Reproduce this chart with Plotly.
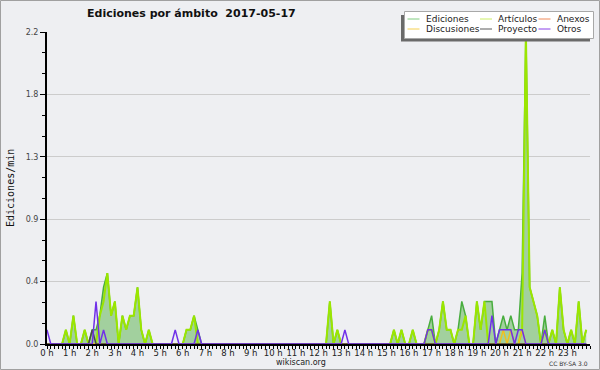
import plotly.graph_objects as go

# ---------------- data (edits per minute, 10-minute buckets, 6 per hour) ----------------
hours = list(range(24))
tick_labels = [f"{h} h" for h in hours]

ediciones = [
    0, 0, 0, 0, 0, 0.1,        # 0h
    0, 0.2, 0, 0, 0.1, 0,      # 1h
    0.1, 0.1, 0.2, 0.4, 0.5, 0.2,  # 2h
    0.3, 0, 0.2, 0.1, 0.2, 0.2,    # 3h
    0.4, 0.1, 0, 0.1, 0, 0,    # 4h
    0, 0, 0, 0, 0, 0,          # 5h
    0, 0.1, 0.1, 0.2, 0.1, 0,  # 6h
    0, 0, 0, 0, 0, 0,          # 7h
    0, 0, 0, 0, 0, 0,          # 8h
    0, 0, 0, 0, 0, 0,          # 9h
    0, 0, 0, 0, 0, 0,          # 10h
    0, 0, 0, 0, 0, 0,          # 11h
    0, 0, 0, 0.3, 0, 0.1,      # 12h
    0, 0, 0, 0, 0, 0,          # 13h
    0, 0, 0, 0, 0, 0,          # 14h
    0, 0, 0.1, 0, 0.1, 0,      # 15h
    0, 0.1, 0, 0, 0, 0.1,      # 16h
    0.2, 0, 0.1, 0.3, 0.1, 0.1,    # 17h
    0, 0.1, 0.3, 0.2, 0, 0,        # 18h
    0.3, 0.1, 0.3, 0.3, 0.3, 0,    # 19h
    0.1, 0.2, 0.1, 0.2, 0.1, 0.1,  # 20h
    0.5, 2.2, 0.4, 0.3, 0.2, 0,    # 21h
    0.2, 0, 0.1, 0, 0.4, 0.1,      # 22h
    0, 0.1, 0, 0.3, 0, 0.1,        # 23h
]

articulos = [
    0, 0, 0, 0, 0, 0.1,
    0, 0.2, 0, 0, 0.1, 0,
    0, 0, 0.2, 0.3, 0.5, 0.2,
    0.3, 0, 0.2, 0.1, 0.2, 0.2,
    0.4, 0.1, 0, 0.1, 0, 0,
    0, 0, 0, 0, 0, 0,
    0, 0.1, 0.1, 0.2, 0, 0,
    0, 0, 0, 0, 0, 0,
    0, 0, 0, 0, 0, 0,
    0, 0, 0, 0, 0, 0,
    0, 0, 0, 0, 0, 0,
    0, 0, 0, 0, 0, 0,
    0, 0, 0, 0.3, 0, 0.1,
    0, 0, 0, 0, 0, 0,
    0, 0, 0, 0, 0, 0,
    0, 0, 0.1, 0, 0.1, 0,
    0, 0.1, 0, 0, 0, 0.1,
    0.1, 0, 0.1, 0.3, 0.1, 0.1,
    0, 0.1, 0.1, 0.2, 0, 0,
    0.3, 0.1, 0.3, 0, 0, 0,
    0, 0, 0, 0, 0, 0,
    0.1, 2.2, 0.4, 0.3, 0.2, 0,
    0.1, 0, 0.1, 0, 0.4, 0.1,
    0, 0.1, 0, 0.3, 0, 0.1,
]

anexos = [0] * 144

discusiones = [0] * 120 + [
    0, 0.1, 0, 0.1, 0, 0,      # 20h
    0.1, 0, 0, 0, 0, 0,        # 21h
] + [0] * 12

proyecto = [0] * 12 + [0.1] + [0] * 131

otros = [
    0.1, 0, 0, 0, 0, 0,        # 0h
    0, 0, 0, 0, 0, 0,          # 1h
    0, 0.3, 0, 0.1, 0, 0,      # 2h
    0, 0, 0, 0, 0, 0,          # 3h
    0, 0, 0, 0, 0, 0,          # 4h
    0, 0, 0, 0, 0.1, 0,        # 5h
    0, 0, 0, 0, 0.1, 0,        # 6h
    0, 0, 0, 0, 0, 0,          # 7h
    0, 0, 0, 0, 0, 0,          # 8h
    0, 0, 0, 0, 0, 0,          # 9h
    0, 0, 0, 0, 0, 0,          # 10h
    0, 0, 0, 0, 0, 0,          # 11h
    0, 0, 0, 0, 0, 0,          # 12h
    0, 0.1, 0, 0, 0, 0,        # 13h
    0, 0, 0, 0, 0, 0,          # 14h
    0, 0, 0, 0, 0, 0,          # 15h
    0, 0, 0, 0, 0, 0.1,        # 16h
    0.1, 0, 0, 0, 0, 0,        # 17h
    0, 0, 0, 0, 0, 0,          # 18h
    0, 0, 0, 0, 0.2, 0,        # 19h
    0.1, 0.1, 0.1, 0.1, 0, 0.1,    # 20h
    0.1, 0, 0, 0, 0, 0,        # 21h
    0.1, 0, 0, 0, 0, 0,        # 22h
    0, 0, 0, 0, 0, 0,          # 23h
]

y_max = 2.2
y_ticks = [0, 0.44, 0.88, 1.32, 1.76, 2.2]
y_tick_labels = ["0.0", "0.4", "0.9", "1.3", "1.8", "2.2"]

times = [i / 6 for i in range(len(ediciones))]

# ---------------- layout constants ----------------
W, H = 600, 370
L, R, T, B = 47, 10, 32, 26
PW, PH = W - L - R, H - T - B
BG = "#eeeff2"


def px(xp):
    return (xp - L) / PW


def py(yp):
    return (H - B - yp) / PH


fig = go.Figure()

fig.add_trace(go.Scatter(x=times, y=ediciones, mode="lines", fill="tozeroy",
                         fillcolor="#a2d09e", line=dict(color="#48ad3e", width=1.5),
                         name="Ediciones", showlegend=False, hoverinfo="skip"))
fig.add_trace(go.Scatter(x=times, y=articulos, mode="lines",
                         line=dict(color="#9be600", width=2),
                         name="Artículos", showlegend=False, hoverinfo="skip"))
fig.add_trace(go.Scatter(x=times, y=anexos, mode="lines",
                         line=dict(color="#f07a40", width=1.5),
                         name="Anexos", showlegend=False, hoverinfo="skip"))
fig.add_trace(go.Scatter(x=times, y=discusiones, mode="lines",
                         line=dict(color="#f0c020", width=1.5),
                         name="Discusiones", showlegend=False, hoverinfo="skip"))
fig.add_trace(go.Scatter(x=times, y=proyecto, mode="lines",
                         line=dict(color="#4a4a4a", width=1.5),
                         name="Proyecto", showlegend=False, hoverinfo="skip"))
fig.add_trace(go.Scatter(x=times, y=otros, mode="lines",
                         line=dict(color="#7030e8", width=1.5),
                         name="Otros", showlegend=False, hoverinfo="skip"))

minor_y = [i * 0.44 / 3 for i in range(16) if i % 3]
minor_x = [i / 6 for i in range(145)]

fig.update_layout(
    width=W, height=H,
    margin=dict(l=L, r=R, t=T, b=B, pad=0),
    paper_bgcolor=BG, plot_bgcolor=BG,
    font=dict(family="DejaVu Sans", color="#333333"),
    showlegend=False,
    xaxis=dict(range=[0, 24], tickmode="array", tickvals=hours, ticktext=tick_labels,
               showgrid=False, zeroline=False, showline=True, linecolor="#000000", linewidth=2,
               ticks="outside", ticklen=0, tickcolor="#000000", tickwidth=1,
               tickfont=dict(size=8.5, color="#222222", family="DejaVu Sans"),
               minor=dict(tickvals=minor_x, ticks="outside", ticklen=3, tickcolor="#000000", showgrid=False),
               fixedrange=True),
    yaxis=dict(range=[0, y_max], tickmode="array", tickvals=y_ticks, ticktext=y_tick_labels,
               showgrid=True, gridcolor="#cccccc", gridwidth=1, zeroline=False,
               showline=True, linecolor="#000000", linewidth=2,
               ticks="outside", ticklen=5, tickcolor="#000000",
               tickfont=dict(size=8, color="#444444", family="DejaVu Sans"),
               minor=dict(tickvals=minor_y, ticks="outside", ticklen=3, tickcolor="#000000", showgrid=False),
               fixedrange=True),
)

annotations = [
    dict(text="<b>Ediciones por ámbito  2017-05-17</b>", x=px(85), y=py(14), xref="paper", yref="paper",
         xanchor="left", yanchor="middle", showarrow=False,
         font=dict(size=11, family="DejaVu Sans", color="#111111")),
    dict(text="Ediciones/min", x=px(10), y=py(188), xref="paper", yref="paper", textangle=-90,
         xanchor="center", yanchor="middle", showarrow=False,
         font=dict(size=10, family="DejaVu Sans Mono", color="#111111")),
    dict(text="wikiscan.org", x=px(301), y=py(362), xref="paper", yref="paper",
         xanchor="center", yanchor="middle", showarrow=False,
         font=dict(size=8, family="DejaVu Sans", color="#222222")),
    dict(text="CC BY-SA 3.0", x=px(590), y=py(363), xref="paper", yref="paper",
         xanchor="right", yanchor="middle", showarrow=False,
         font=dict(size=6, family="DejaVu Sans", color="#333333")),
]

shapes = [
    # image border
    dict(type="rect", xref="paper", yref="paper", x0=px(0.5), x1=px(599.5), y0=py(0.5), y1=py(369.5),
         line=dict(color="#a0a0a0", width=1), fillcolor="rgba(0,0,0,0)", layer="above"),
    # legend shadow
    dict(type="rect", xref="paper", yref="paper", x0=px(401), x1=px(590), y0=py(15), y1=py(41.5),
         line=dict(width=0), fillcolor="#6a6a6a", layer="above"),
    # legend box
    dict(type="rect", xref="paper", yref="paper", x0=px(404.5), x1=px(593.5), y0=py(11.5), y1=py(38.5),
         line=dict(color="#a8a8a8", width=1), fillcolor="#ffffff", layer="above"),
]

legend_items = [
    ("Ediciones", "#80cc80", 407.5, 19), ("Artículos", "#ccee66", 480, 19), ("Anexos", "#f08a5a", 538.5, 19),
    ("Discusiones", "#f5d050", 407.5, 29), ("Proyecto", "#5a5a5a", 480, 29), ("Otros", "#8a40e8", 538.5, 29),
]
for name, col, lx, ly in legend_items:
    shapes.append(dict(type="line", xref="paper", yref="paper", x0=px(lx), x1=px(lx + 12),
                       y0=py(ly), y1=py(ly), line=dict(color=col, width=1), layer="above"))
    annotations.append(dict(text=name, x=px(lx + 16), y=py(ly), xref="paper", yref="paper",
                            xanchor="left", yanchor="middle", showarrow=False,
                            font=dict(size=9, family="DejaVu Sans", color="#222222")))

fig.update_layout(shapes=shapes, annotations=annotations)

fig.write_html("out.html", config={"displayModeBar": False},
               post_script="document.body.style.margin='0';document.body.style.overflow='hidden';")
